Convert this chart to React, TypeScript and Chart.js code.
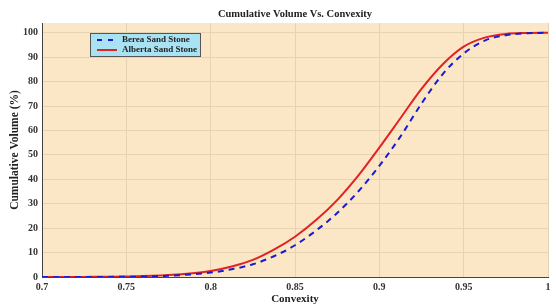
import React, { useEffect, useRef } from "react";
import { Chart, registerables } from "chart.js";

Chart.register(...registerables);

const convexity = [0.7, 0.725, 0.75, 0.775, 0.8, 0.8125, 0.825, 0.8375, 0.85, 0.8625, 0.875, 0.8875, 0.9, 0.9125, 0.925, 0.9375, 0.95, 0.9625, 0.975, 0.9875, 1.0];
const bereaValues = [0, 0.02, 0.1, 0.5, 1.8, 3.2, 5.2, 8.5, 13, 19, 26.2, 35, 45.5, 57.5, 71, 83, 91.5, 96.8, 99, 99.8, 100];
const albertaValues = [0, 0.05, 0.2, 0.8, 2.5, 4.3, 7, 11.2, 16.5, 23.3, 31.5, 41.5, 53, 65, 77, 87, 94.3, 98, 99.5, 99.9, 100];
const seriesNames = ["Berea Sand Stone", "Alberta Sand Stone"];
const xTicks = [0.7, 0.75, 0.8, 0.85, 0.9, 0.95, 1];
const yTicks = [0, 10, 20, 30, 40, 50, 60, 70, 80, 90, 100];
const chartTitle = "Cumulative Volume Vs. Convexity";
const xTitle = "Convexity";
const yTitle = "Cumulative Volume (%)";

const SERIF = "'Liberation Serif', 'Times New Roman', serif";
const BLUE = "#1a1ad0";
const RED = "#e02222";

export default function App() {
  const ref = useRef<HTMLCanvasElement | null>(null);
  useEffect(() => {
    document.body.style.margin = "0";
    const canvas = ref.current;
    if (!canvas) return;

    const decor = {
      id: "decor",
      beforeDraw(chart: any) {
        const { ctx, chartArea } = chart;
        ctx.save();
        ctx.fillStyle = "#fbe6c6";
        ctx.fillRect(chartArea.left, chartArea.top, chartArea.right - chartArea.left, chartArea.bottom - chartArea.top);
        ctx.restore();
      },
      afterDraw(chart: any) {
        const { ctx, chartArea } = chart;
        ctx.save();
        ctx.fillStyle = "#222";
        ctx.font = `bold 10.5px ${SERIF}`;
        ctx.textAlign = "center";
        ctx.textBaseline = "middle";
        ctx.fillText(chartTitle, (chartArea.left + chartArea.right) / 2, 14);
        const lx = 90, ly = 33, lw = 110, lh = 23;
        ctx.fillStyle = "#a9e3f3";
        ctx.fillRect(lx, ly, lw, lh);
        ctx.strokeStyle = "#555";
        ctx.lineWidth = 1;
        ctx.strokeRect(lx + 0.5, ly + 0.5, lw, lh);
        ctx.lineWidth = 2;
        ctx.strokeStyle = BLUE;
        ctx.setLineDash([5, 6]);
        ctx.beginPath();
        ctx.moveTo(97, 40);
        ctx.lineTo(117, 40);
        ctx.stroke();
        ctx.setLineDash([]);
        ctx.strokeStyle = RED;
        ctx.beginPath();
        ctx.moveTo(97, 50);
        ctx.lineTo(117, 50);
        ctx.stroke();
        ctx.fillStyle = "#222";
        ctx.font = `bold 9px ${SERIF}`;
        ctx.textAlign = "left";
        ctx.fillText(seriesNames[0], 122, 40);
        ctx.fillText(seriesNames[1], 122, 50);
        ctx.restore();
      },
    };

    const chart = new Chart(canvas, {
      type: "line",
      data: {
        datasets: [
          {
            label: seriesNames[0],
            data: convexity.map((x, i) => ({ x, y: bereaValues[i] })),
            borderColor: BLUE,
            borderWidth: 2,
            borderDash: [6, 5],
            pointRadius: 0,
            cubicInterpolationMode: "monotone",
            fill: false,
          },
          {
            label: seriesNames[1],
            data: convexity.map((x, i) => ({ x, y: albertaValues[i] })),
            borderColor: RED,
            borderWidth: 2,
            pointRadius: 0,
            cubicInterpolationMode: "monotone",
            fill: false,
          },
        ],
      },
      options: {
        responsive: false,
        animation: false,
        layout: { padding: { top: 23, right: 8, bottom: 0, left: 0 } },
        plugins: {
          legend: { display: false },
          title: { display: false },
          tooltip: { enabled: false },
        },
        scales: {
          x: {
            type: "linear",
            min: 0.7,
            max: 1,
            afterBuildTicks: (s: any) => {
              s.ticks = xTicks.map((v) => ({ value: v }));
            },
            afterFit: (s: any) => {
              s.height = 30;
            },
            ticks: {
              color: "#333",
              font: { family: SERIF, size: 10, weight: "bold" },
              padding: 4,
              maxRotation: 0,
              callback: (v: any) => String(Math.round(Number(v) * 100) / 100),
            },
            grid: { color: "#e6d3b3", drawTicks: false, lineWidth: 1 },
            border: { color: "#444", width: 1 },
            title: {
              display: true,
              text: xTitle,
              color: "#222",
              font: { family: SERIF, size: 11, weight: "bold" },
              padding: { top: 0, bottom: 1 },
            },
          },
          y: {
            type: "linear",
            min: 0,
            max: 104,
            afterBuildTicks: (s: any) => {
              s.ticks = yTicks.map((v) => ({ value: v }));
            },
            afterFit: (s: any) => {
              s.width = 42;
            },
            ticks: {
              color: "#333",
              font: { family: SERIF, size: 10, weight: "bold" },
              padding: 4,
            },
            grid: { color: "#e6d3b3", drawTicks: false, lineWidth: 1 },
            border: { color: "#444", width: 1 },
            title: {
              display: true,
              text: yTitle,
              color: "#222",
              font: { family: SERIF, size: 11.5, weight: "bold" },
              padding: { top: 8, bottom: 0 },
            },
          },
        },
      },
      plugins: [decor],
    } as any);
    return () => chart.destroy();
  }, []);
  return <canvas ref={ref} width={556} height={307} style={{ display: "block" }} />;
}
